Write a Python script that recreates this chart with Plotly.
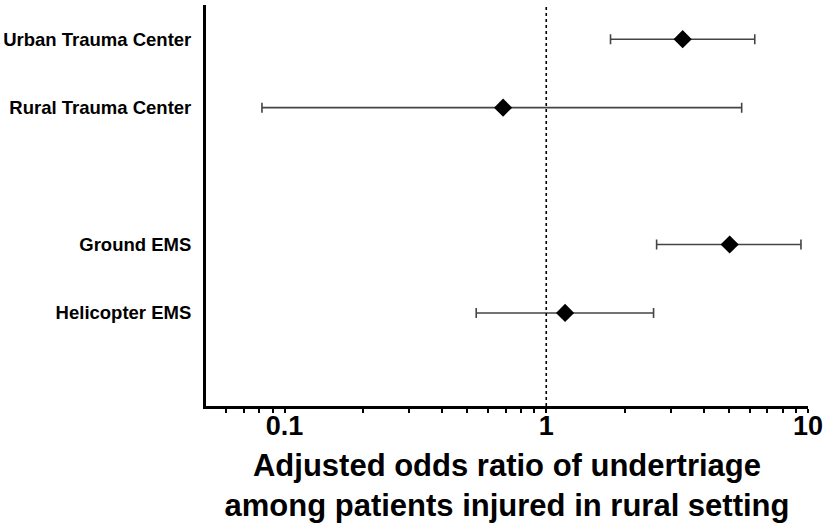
import plotly.graph_objects as go

# adjusted odds ratios with 95% CI
groups = ["Urban Trauma Center", "Rural Trauma Center", "Ground EMS", "Helicopter EMS"]
odds_ratio = [3.32, 0.684, 5.02, 1.18]
ci_low = [1.76, 0.082, 2.64, 0.54]
ci_high = [6.26, 5.58, 9.40, 2.57]

# row order on the y axis, with an empty spacer row between the two blocks
row_order = ["Urban Trauma Center", "Rural Trauma Center", " ", "Ground EMS", "Helicopter EMS"]
x_ticks = [0.1, 1, 10]
x_tick_text = ["0.1", "1", "10"]

plus = [h - v for h, v in zip(ci_high, odds_ratio)]
minus = [v - l for v, l in zip(odds_ratio, ci_low)]

fig = go.Figure()
fig.add_trace(go.Scatter(
    x=odds_ratio,
    y=groups,
    mode="markers",
    marker=dict(symbol="diamond", size=14, color="black"),
    error_x=dict(type="data", symmetric=False, array=plus, arrayminus=minus,
                 color="#444444", thickness=1.6, width=5),
    showlegend=False,
    hoverinfo="skip",
))

# reference line at OR = 1
fig.add_shape(type="line", xref="x", yref="paper", x0=1, x1=1, y0=0, y1=1,
              line=dict(color="black", width=1.6, dash="dot"))

fig.update_layout(
    width=824, height=523,
    margin=dict(l=206, r=16, t=5, b=117),
    plot_bgcolor="white",
    paper_bgcolor="white",
    font=dict(family="Liberation Sans, Arial, sans-serif", color="black"),
    xaxis=dict(
        type="log",
        range=[-1.30, 1.0],
        tickvals=x_ticks,
        ticktext=x_tick_text,
        ticks="outside",
        ticklen=4,
        tickwidth=2,
        tickcolor="black",
        ticklabelstandoff=-10,
        tickfont=dict(size=27, family="Liberation Sans, Arial", weight="bold"),
        minor=dict(ticks="outside", dtick="D1", ticklen=4, tickwidth=2, tickcolor="black"),
        showline=True,
        linecolor="black",
        linewidth=3,
        showgrid=False,
        zeroline=False,
        automargin=False,
        title=dict(
            text="<b>Adjusted odds ratio of undertriage<br>among patients injured in rural setting</b>",
            font=dict(size=31, family="Liberation Sans, Arial"),
            standoff=20,
        ),
    ),
    yaxis=dict(
        type="category",
        categoryorder="array",
        categoryarray=row_order,
        range=[5.36, -0.5],
        ticks="outside",
        ticklen=8,
        tickcolor="rgba(0,0,0,0)",
        tickfont=dict(size=18.5, family="Liberation Sans, Arial", weight="bold"),
        showline=True,
        linecolor="black",
        linewidth=3,
        showgrid=False,
        zeroline=False,
        automargin=False,
    ),
)

fig.write_html("out.html", config={"displayModeBar": False},
               post_script="document.body.style.margin='0';")
